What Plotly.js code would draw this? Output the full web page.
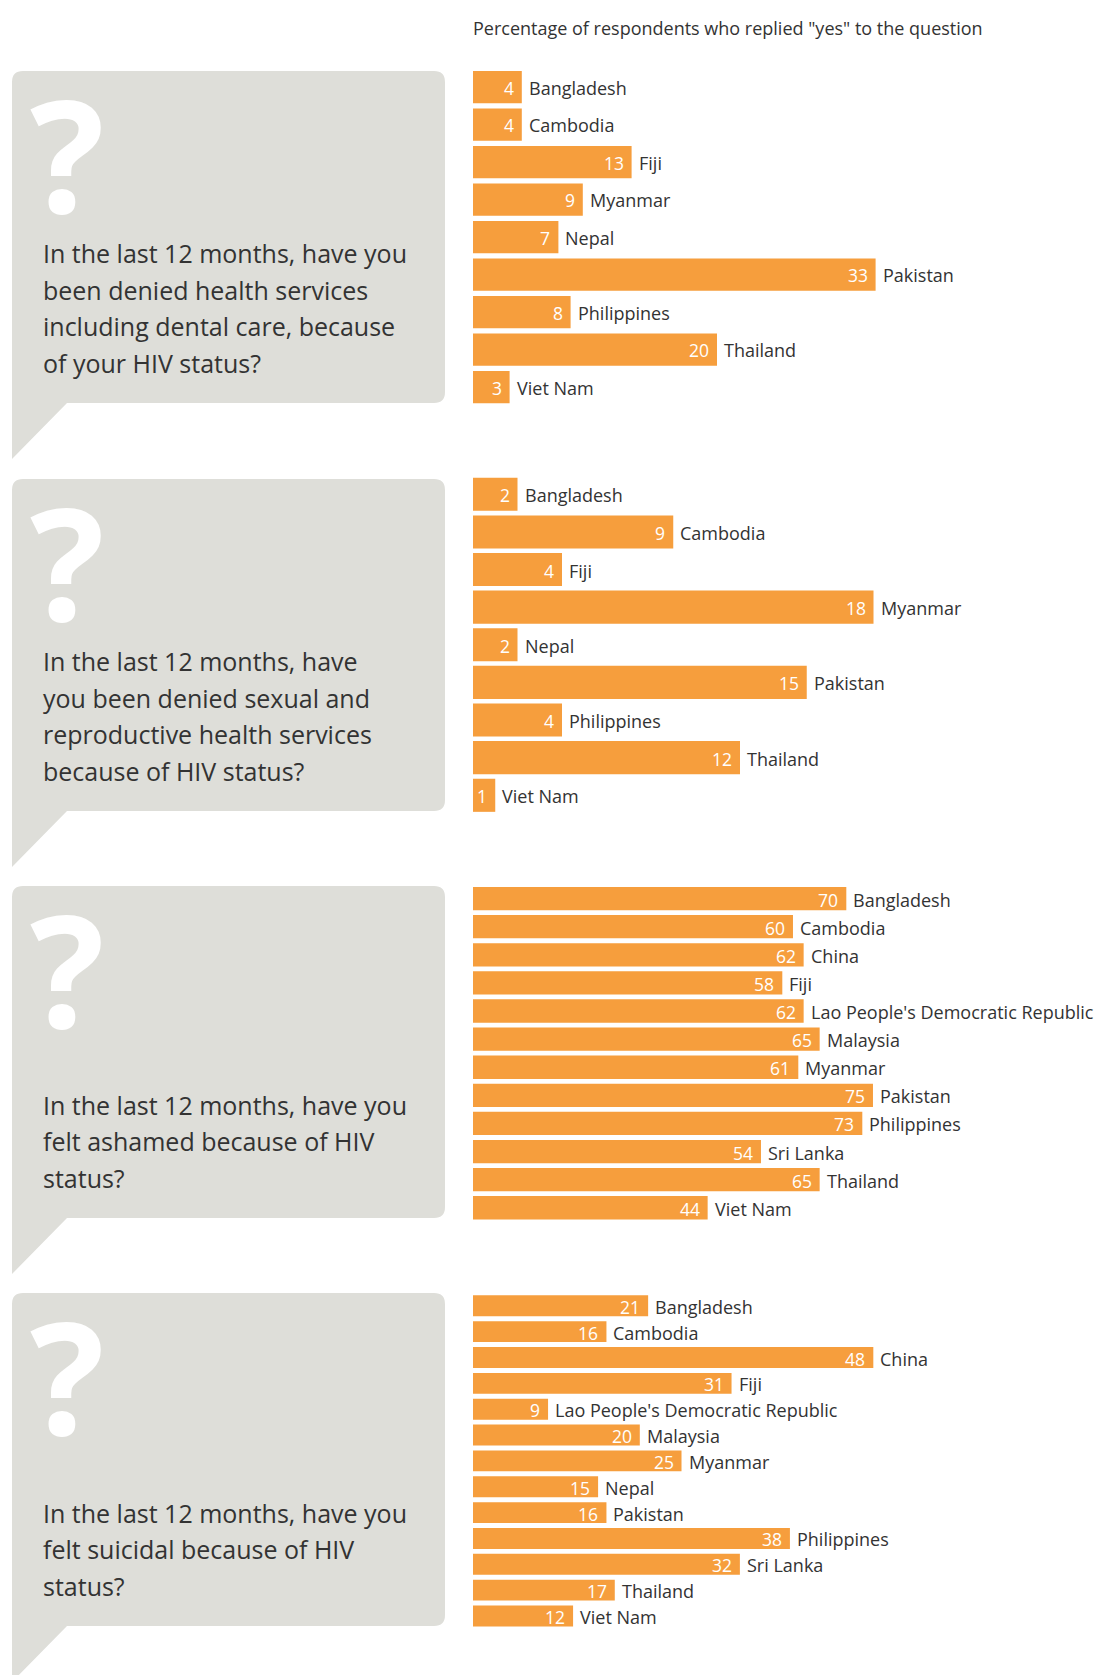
<!DOCTYPE html>
<html>
<head>
<meta charset="utf-8">
<script src="https://cdn.plot.ly/plotly-3.0.1.min.js"></script>
<style>
html,body{margin:0;padding:0;background:#fff;}
#chart{width:1106px;height:1675px;}
</style>
</head>
<body>
<div id="chart"></div>
<script>
// ---------- DATA ----------
const headerText = 'Percentage of respondents who replied "yes" to the question';

const countries1 = ["Bangladesh","Cambodia","Fiji","Myanmar","Nepal","Pakistan","Philippines","Thailand","Viet Nam"];
const values1    = [4,4,13,9,7,33,8,20,3];

const countries2 = ["Bangladesh","Cambodia","Fiji","Myanmar","Nepal","Pakistan","Philippines","Thailand","Viet Nam"];
const values2    = [2,9,4,18,2,15,4,12,1];

const countries3 = ["Bangladesh","Cambodia","China","Fiji","Lao People's Democratic Republic","Malaysia","Myanmar","Pakistan","Philippines","Sri Lanka","Thailand","Viet Nam"];
const values3    = [70,60,62,58,62,65,61,75,73,54,65,44];

const countries4 = ["Bangladesh","Cambodia","China","Fiji","Lao People's Democratic Republic","Malaysia","Myanmar","Nepal","Pakistan","Philippines","Sri Lanka","Thailand","Viet Nam"];
const values4    = [21,16,48,31,9,20,25,15,16,38,32,17,12];

const question1 = ["In the last 12 months, have you","been denied health services","including dental care, because","of your HIV status?"];
const question2 = ["In the last 12 months, have","you been denied sexual and","reproductive health services","because of HIV status?"];
const question3 = ["In the last 12 months, have you","felt ashamed because of HIV","status?"];
const question4 = ["In the last 12 months, have you","felt suicidal because of HIV","status?"];

// ---------- LAYOUT CONSTANTS ----------
const W = 1106, H = 1675;
const FONT = '"Open Sans", Lato, sans-serif';
const BAR = '#F69E3D';
const BUBBLE = '#DEDED9';
const TXT = '#333333';
const barLeft = 473;

const panels = [
  {c: countries1, v: values1, q: question1, top: 68.25, bot: 405.75, ppu: 12.2,  bw: 0.86, bTop: 71,   bBot: 403},
  {c: countries2, v: values2, q: question2, top: 475.5, bot: 814.1,  ppu: 22.25, bw: 0.88, bTop: 479,  bBot: 811},
  {c: countries3, v: values3, q: question3, top: 883.6, bot: 1221.8, ppu: 5.333, bw: 0.83, bTop: 886,  bBot: 1218},
  {c: countries4, v: values4, q: question4, top: 1290.8,bot: 1629,   ppu: 8.34,  bw: 0.81, bTop: 1293, bBot: 1626}
];

function px(x){ return x / W; }
function py(y){ return 1 - y / H; }
function P(x, y){ return px(x).toFixed(5) + ',' + py(y).toFixed(5); }

function bubblePath(top, bottom){
  const L = 12, R = 445, r = 11, tw = 55, th = 56;
  return 'M' + P(L, top + r) +
         ' Q' + P(L, top) + ' ' + P(L + r, top) +
         ' L' + P(R - r, top) +
         ' Q' + P(R, top) + ' ' + P(R, top + r) +
         ' L' + P(R, bottom - r) +
         ' Q' + P(R, bottom) + ' ' + P(R - r, bottom) +
         ' L' + P(L + tw, bottom) +
         ' L' + P(L, bottom + th) + ' Z';
}

const data = [];
const annotations = [];
const shapes = [];
const layout = {
  width: W, height: H,
  margin: {l: 0, r: 0, t: 0, b: 0, pad: 0},
  paper_bgcolor: '#ffffff',
  plot_bgcolor: 'rgba(0,0,0,0)',
  showlegend: false,
  font: {family: FONT, color: TXT},
  annotations: annotations,
  shapes: shapes
};

annotations.push({
  xref: 'paper', yref: 'paper', x: px(barLeft - 2), y: py(28),
  xanchor: 'left', yanchor: 'middle', showarrow: false,
  text: headerText, font: {family: FONT, size: 18, color: TXT}
});

panels.forEach((p, i) => {
  const n = i + 1;
  const xa = n === 1 ? 'x' : 'x' + n;
  const ya = n === 1 ? 'y' : 'y' + n;
  const xk = n === 1 ? 'xaxis' : 'xaxis' + n;
  const yk = n === 1 ? 'yaxis' : 'yaxis' + n;

  layout[xk] = {
    domain: [px(barLeft), 1],
    range: [0, (W - barLeft) / p.ppu],
    visible: false, showgrid: false, zeroline: false, fixedrange: true,
    anchor: ya
  };
  layout[yk] = {
    domain: [py(p.bot), py(p.top)],
    type: 'category',
    autorange: 'reversed',
    visible: false, showgrid: false, zeroline: false, fixedrange: true,
    anchor: xa
  };

  data.push({
    type: 'bar', orientation: 'h',
    x: p.v, y: p.c, xaxis: xa, yaxis: ya,
    width: p.bw,
    marker: {color: BAR, line: {width: 0}},
    hoverinfo: 'skip'
  });

  p.v.forEach((val, k) => {
    annotations.push({
      xref: xa, yref: ya, x: val, y: p.c[k],
      xanchor: 'right', yanchor: 'middle', xshift: -6, yshift: -1,
      showarrow: false, text: String(val),
      font: {family: FONT, size: 17.5, color: '#ffffff'}
    });
    annotations.push({
      xref: xa, yref: ya, x: val, y: p.c[k],
      xanchor: 'left', yanchor: 'middle', xshift: 5, yshift: -1,
      showarrow: false, text: p.c[k],
      font: {family: FONT, size: 18, color: TXT}
    });
  });

  shapes.push({
    type: 'path', xref: 'paper', yref: 'paper', layer: 'below',
    path: bubblePath(p.bTop, p.bBot),
    fillcolor: BUBBLE, line: {width: 0}
  });

  annotations.push({
    xref: 'paper', yref: 'paper', x: px(67), y: py(p.bTop + 81),
    xanchor: 'center', yanchor: 'middle', showarrow: false,
    height: 130,
    text: '<b>?</b>',
    font: {family: FONT, size: 156, color: '#ffffff'}
  });

  const pitch = 36.6;
  const last = p.bBot - 40;
  p.q.forEach((line, k) => {
    const yc = last - (p.q.length - 1 - k) * pitch;
    annotations.push({
      xref: 'paper', yref: 'paper', x: px(41), y: py(yc),
      xanchor: 'left', yanchor: 'middle', showarrow: false,
      text: line, font: {family: FONT, size: 25, color: TXT}
    });
  });
});

Plotly.newPlot('chart', data, layout, {staticPlot: true, displayModeBar: false});
</script>
</body>
</html>
